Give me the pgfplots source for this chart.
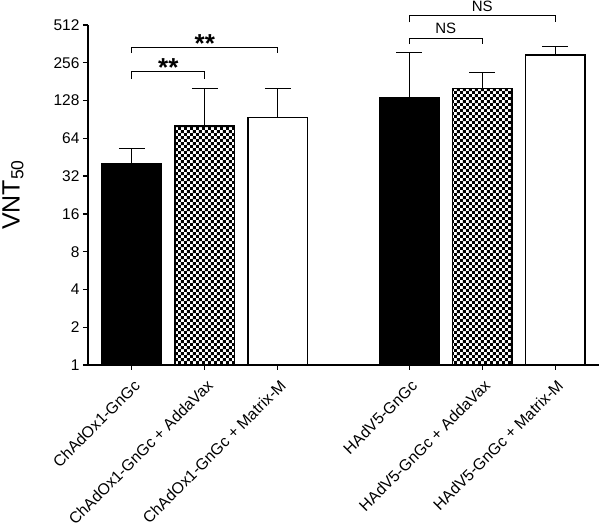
\documentclass[border=0pt]{standalone}
\usepackage{fontspec}
\setmainfont{Liberation Sans}
\usepackage{pgfplots}
\pgfplotsset{compat=1.18}
\usetikzlibrary{patterns.meta}

\tikzdeclarepattern{
  name=checker3,
  type=uncolored,
  bottom left={(0pt,0pt)},
  top right={(6.4pt,6.4pt)},
  tile size={(6.4pt,6.4pt)},
  code={
    \pgfpathrectangle{\pgfpointorigin}{\pgfqpoint{3.2pt}{3.2pt}}
    \pgfpathrectangle{\pgfqpoint{3.2pt}{3.2pt}}{\pgfqpoint{3.2pt}{3.2pt}}
    \pgfusepath{fill}
  }
}

\begin{document}
\begin{tikzpicture}
\begin{axis}[
  scale only axis, width=511pt, height=340pt,
  ymode=log, log basis y=2, ymin=1, ymax=512,
  xmin=-0.6, xmax=6.4,
  axis lines*=left,
  axis line style={line width=1.5pt},
  clip=false,
  ytick={1,2,4,8,16,32,64,128,256,512},
  yticklabels={1,2,4,8,16,32,64,128,256,512},
  yminorticks=false,
  xtick={0,1,2,3.8,4.8,5.8},
  xticklabels={ChAdOx1-GnGc, ChAdOx1-GnGc + AddaVax, ChAdOx1-GnGc + Matrix-M, HAdV5-GnGc, HAdV5-GnGc + AddaVax, HAdV5-GnGc + Matrix-M},
  x tick label style={xshift=1pt, yshift=-8.5pt, rotate=45, anchor=north east, inner sep=0pt, font=\fontsize{15.8}{18}\selectfont},
  y tick label style={font=\fontsize{15.5}{18}\selectfont},
  tick align=outside,
  major tick length=5pt,
  tick style={line width=1.3pt, black},
  ylabel={VNT\textsubscript{50}},
  ylabel style={font=\fontsize{25}{28}\selectfont, at={(axis description cs:0,0.5)}, anchor=center, yshift=75pt},
  /pgf/number format/assume math mode=true,
]
\addplot[ybar, bar shift=0pt, bar width=0.82, fill=black, draw=black, line width=1.5pt,
  error bars/.cd, y dir=plus, y explicit,
  error bar style={line width=1.3pt, black},
  error mark options={rotate=90, mark size=13pt, line width=1.3pt, black}]
  coordinates {(0,40.5) +- (0,12.5) (3.8,134) +- (0,177)};
\addplot[ybar, bar shift=0pt, bar width=0.82, pattern=checker3, pattern color=black, draw=black, line width=1.5pt,
  error bars/.cd, y dir=plus, y explicit,
  error bar style={line width=1.3pt, black},
  error mark options={rotate=90, mark size=13pt, line width=1.3pt, black}]
  coordinates {(1,80) +- (0,80) (4.8,160) +- (0,55)};
\addplot[ybar, bar shift=0pt, bar width=0.82, fill=white, draw=black, line width=1.5pt,
  error bars/.cd, y dir=plus, y explicit,
  error bar style={line width=1.3pt, black},
  error mark options={rotate=90, mark size=13pt, line width=1.3pt, black}]
  coordinates {(2,94) +- (0,66) (5.8,294) +- (0,53)};

\draw[line width=1.3pt] (axis cs:0,190) |- (axis cs:1,219) -- (axis cs:1,190);
\node[anchor=base, inner sep=0pt, font=\fontsize{26}{26}\selectfont\bfseries, yshift=-5pt] at (axis cs:0.5,219) {**};
\draw[line width=1.3pt] (axis cs:0,305) |- (axis cs:2,340) -- (axis cs:2,305);
\node[anchor=base, inner sep=0pt, font=\fontsize{26}{26}\selectfont\bfseries, yshift=-5pt] at (axis cs:1,340) {**};
\draw[line width=1.3pt] (axis cs:3.8,360) |- (axis cs:4.8,402) -- (axis cs:4.8,360);
\node[anchor=base, inner sep=0pt, font=\fontsize{15}{17}\selectfont, yshift=5pt] at (axis cs:4.3,402) {NS};
\draw[line width=1.3pt] (axis cs:3.8,538) |- (axis cs:5.8,613) -- (axis cs:5.8,538);
\node[anchor=base, inner sep=0pt, font=\fontsize{15}{17}\selectfont, yshift=3.5pt] at (axis cs:4.8,613) {NS};
\end{axis}
\pgfresetboundingbox
\useasboundingbox (-88pt,-165pt) rectangle (512pt,365pt);
\end{tikzpicture}
\end{document}
